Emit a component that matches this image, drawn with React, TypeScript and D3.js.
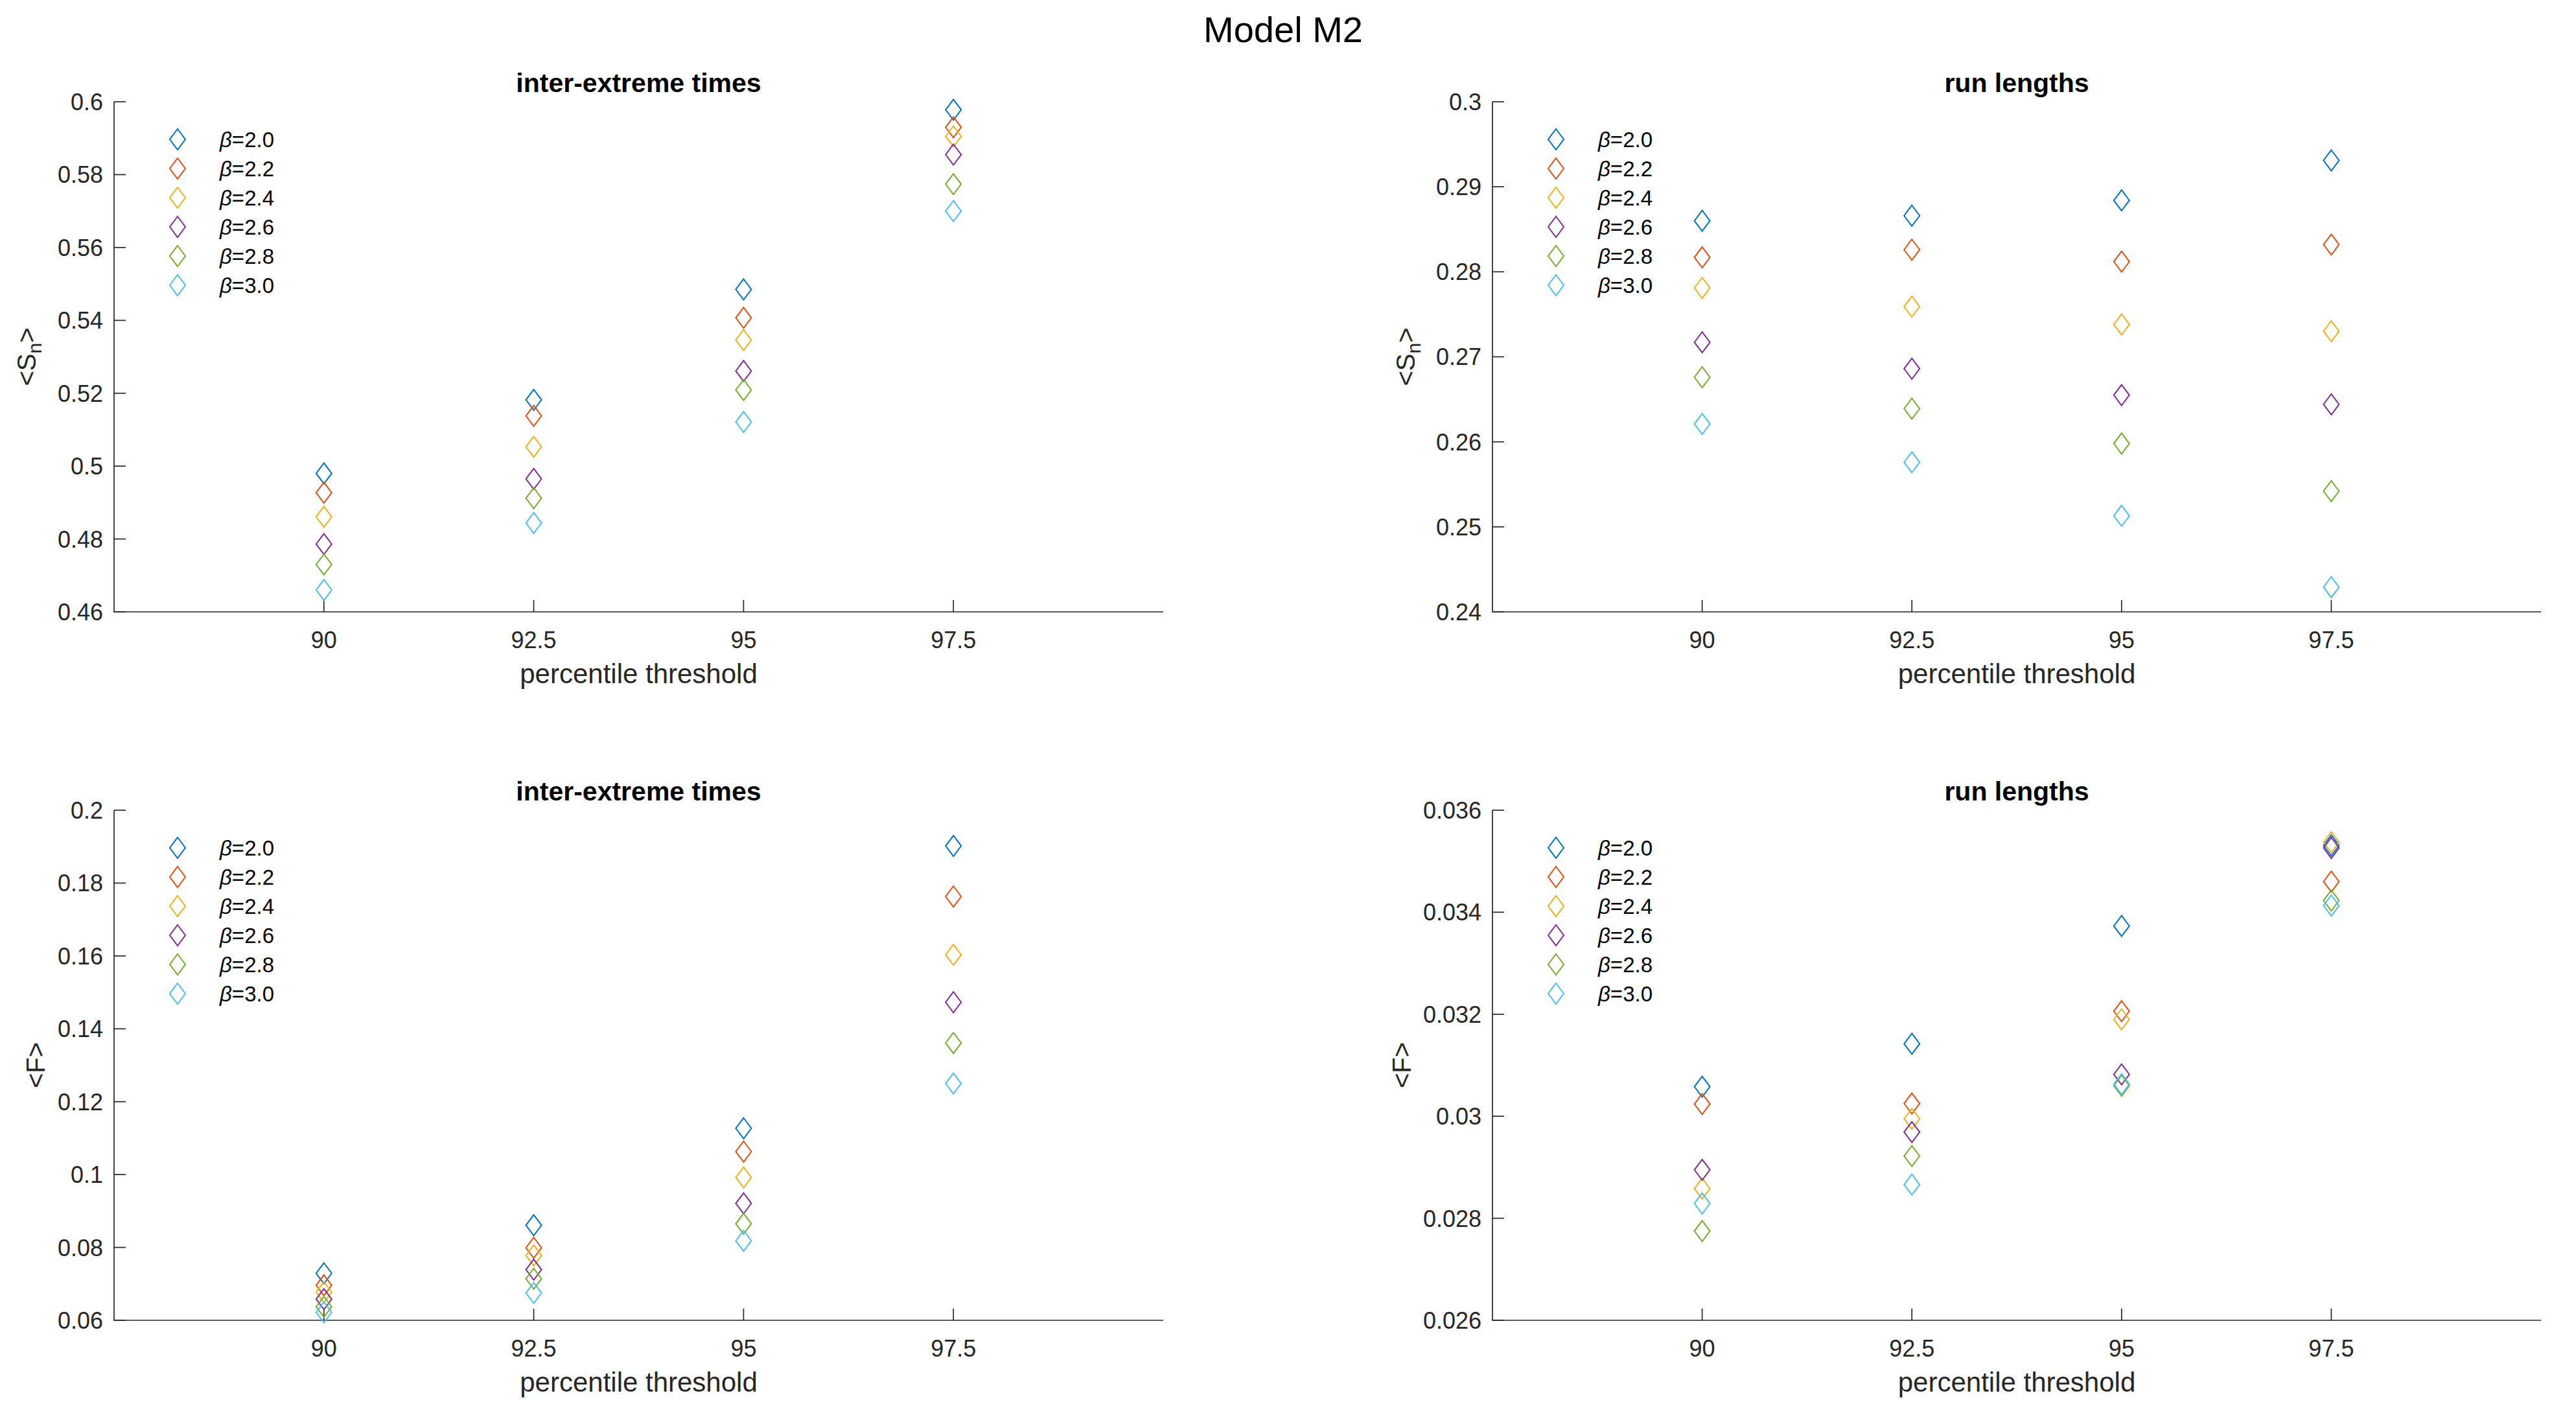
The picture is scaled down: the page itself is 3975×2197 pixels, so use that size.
import React from "react";
import * as d3 from "d3";

const W = 3975;
const H = 2197;

const percentiles = [90, 92.5, 95, 97.5];
const xTickLabels = ["90", "92.5", "95", "97.5"];
const betaLabels = ["2.0", "2.2", "2.4", "2.6", "2.8", "3.0"];
const colors = ["#0072BD", "#D95319", "#EDB120", "#7E2F8E", "#77AC30", "#4DBEEE"];

// <S_n>, inter-extreme times
const interSn = [
  [0.498, 0.5182, 0.5485, 0.5978],
  [0.4927, 0.5138, 0.5407, 0.593],
  [0.4861, 0.5053, 0.5346, 0.5905],
  [0.4786, 0.4965, 0.5261, 0.5855],
  [0.473, 0.4912, 0.5209, 0.5774],
  [0.466, 0.4844, 0.5121, 0.57],
];
// <S_n>, run lengths
const runSn = [
  [0.286, 0.2866, 0.2884, 0.2931],
  [0.2817, 0.2826, 0.2812, 0.2832],
  [0.2781, 0.2759, 0.2738, 0.273],
  [0.2717, 0.2686, 0.2655, 0.2644],
  [0.2676, 0.2639, 0.2598, 0.2542],
  [0.2621, 0.2576, 0.2513, 0.2429],
];
// <F>, inter-extreme times
const interF = [
  [0.0729, 0.0861, 0.1127, 0.1902],
  [0.0696, 0.0799, 0.1063, 0.1763],
  [0.0677, 0.0778, 0.0992, 0.1603],
  [0.0658, 0.0739, 0.0921, 0.1473],
  [0.0637, 0.0714, 0.0865, 0.1361],
  [0.0622, 0.0675, 0.0818, 0.125],
];
// <F>, run lengths
const runF = [
  [0.03058, 0.03142, 0.03373, 0.03531],
  [0.03024, 0.03025, 0.03206, 0.0346],
  [0.02858, 0.02995, 0.0319, 0.03537],
  [0.02895, 0.02969, 0.03082, 0.03526],
  [0.02775, 0.02922, 0.0306, 0.03423],
  [0.02829, 0.02866, 0.03063, 0.03413],
];

const ticksInterSn = [0.46, 0.48, 0.5, 0.52, 0.54, 0.56, 0.58, 0.6];
const ticksRunSn = [0.24, 0.25, 0.26, 0.27, 0.28, 0.29, 0.3];
const ticksInterF = [0.06, 0.08, 0.1, 0.12, 0.14, 0.16, 0.18, 0.2];
const ticksRunF = [0.026, 0.028, 0.03, 0.032, 0.034, 0.036];

const FONT = "'Liberation Sans', Arial, Helvetica, sans-serif";
const AX = "#262626";

type PanelProps = {
  left: number;
  right: number;
  top: number;
  bottom: number;
  title: string;
  data: number[][];
  yTicks: number[];
  ylab: "S" | "F";
  ylabOffset: number;
};

function fmt(v: number) {
  return String(+v.toFixed(4));
}

function Diamond({ cx, cy, color }: { cx: number; cy: number; color: string }) {
  const hw = 12;
  const hh = 16;
  const d = `M${cx},${cy - hh}L${cx + hw},${cy}L${cx},${cy + hh}L${cx - hw},${cy}Z`;
  return <path d={d} fill="none" stroke={color} strokeWidth={2} />;
}

function Panel(p: PanelProps) {
  const x = d3.scaleLinear().domain([87.5, 100]).range([p.left, p.right]);
  const y = d3
    .scaleLinear()
    .domain([p.yTicks[0], p.yTicks[p.yTicks.length - 1]])
    .range([p.bottom, p.top]);
  const tickLen = 18;
  const cxMid = (p.left + p.right) / 2;
  const cyMid = (p.top + p.bottom) / 2;
  const labX = p.left - p.ylabOffset;
  return (
    <g>
      <path
        d={`M${p.left},${p.top}L${p.left},${p.bottom}L${p.right},${p.bottom}`}
        fill="none"
        stroke={AX}
        strokeWidth={1.7}
      />
      {p.yTicks.map((t) => (
        <g key={"y" + t}>
          <line x1={p.left} x2={p.left + tickLen} y1={y(t)} y2={y(t)} stroke={AX} strokeWidth={1.7} />
          <text
            x={p.left - 17}
            y={y(t)}
            dy="0.36em"
            textAnchor="end"
            fontSize={36}
            fontFamily={FONT}
            fill={AX}
          >
            {fmt(t)}
          </text>
        </g>
      ))}
      {percentiles.map((t, i) => (
        <g key={"x" + t}>
          <line x1={x(t)} x2={x(t)} y1={p.bottom} y2={p.bottom - tickLen} stroke={AX} strokeWidth={1.7} />
          <text x={x(t)} y={p.bottom + 56} textAnchor="middle" fontSize={36} fontFamily={FONT} fill={AX}>
            {xTickLabels[i]}
          </text>
        </g>
      ))}
      <text x={cxMid} y={p.bottom + 110} textAnchor="middle" fontSize={42} fontFamily={FONT} fill={AX}>
        percentile threshold
      </text>
      <text
        transform={`translate(${labX},${cyMid}) rotate(-90)`}
        textAnchor="middle"
        fontSize={40}
        fontFamily={FONT}
        fill={AX}
      >
        {p.ylab === "S" ? (
          <>
            {"<S"}
            <tspan fontSize={30} dy={9}>
              n
            </tspan>
            <tspan dy={-9}>{">"}</tspan>
          </>
        ) : (
          "<F>"
        )}
      </text>
      <text
        x={cxMid}
        y={p.top - 15}
        textAnchor="middle"
        fontSize={41}
        fontWeight="bold"
        fontFamily={FONT}
        fill="#000"
      >
        {p.title}
      </text>
      {p.data.map((series, si) =>
        series.map((v, i) => (
          <Diamond key={si + "-" + i} cx={x(percentiles[i])} cy={y(v)} color={colors[si]} />
        ))
      )}
      {betaLabels.map((b, i) => {
        const ly = p.top + 58 + i * 45;
        return (
          <g key={"l" + b}>
            <Diamond cx={p.left + 98} cy={ly} color={colors[i]} />
            <text x={p.left + 163} y={ly + 12} fontSize={33} fontFamily={FONT} fill="#000">
              <tspan fontStyle="italic">β</tspan>={b}
            </text>
          </g>
        );
      })}
    </g>
  );
}

export default function App() {
  const L1 = 176,
    R1 = 1795,
    L2 = 2303,
    R2 = 3921;
  const T1 = 157,
    B1 = 944,
    T2 = 1250,
    B2 = 2037;
  return (
    <svg
      width={W}
      height={H}
      viewBox={`0 0 ${W} ${H}`}
      style={{ position: "absolute", left: 0, top: 0, background: "#fff" }}
    >
      <rect x={0} y={0} width={W} height={H} fill="#fff" />
      <text x={1980} y={65} textAnchor="middle" fontSize={56} fontFamily={FONT} fill="#000">
        Model M2
      </text>
      <Panel left={L1} right={R1} top={T1} bottom={B1} title="inter-extreme times" data={interSn} yTicks={ticksInterSn} ylab="S" ylabOffset={121} />
      <Panel left={L2} right={R2} top={T1} bottom={B1} title="run lengths" data={runSn} yTicks={ticksRunSn} ylab="S" ylabOffset={120} />
      <Panel left={L1} right={R1} top={T2} bottom={B2} title="inter-extreme times" data={interF} yTicks={ticksInterF} ylab="F" ylabOffset={107} />
      <Panel left={L2} right={R2} top={T2} bottom={B2} title="run lengths" data={runF} yTicks={ticksRunF} ylab="F" ylabOffset={126} />
    </svg>
  );
}
